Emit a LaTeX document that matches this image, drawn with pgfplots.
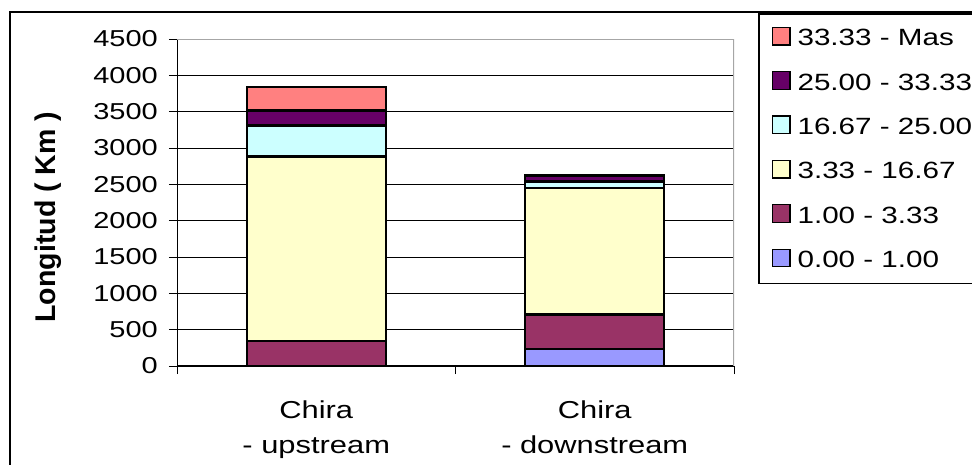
\documentclass[border=0pt]{standalone}
\usepackage{fontspec}
\setmainfont{Liberation Sans}[FakeStretch=1.26]
\newfontfamily\labfont{Liberation Sans}
\usepackage{pgfplots}
\pgfplotsset{compat=1.18}
\definecolor{cA}{HTML}{9999FF}
\definecolor{cB}{HTML}{993366}
\definecolor{cC}{HTML}{FFFFCC}
\definecolor{cD}{HTML}{CCFFFF}
\definecolor{cE}{HTML}{660066}
\definecolor{cF}{HTML}{FF8080}
\begin{document}
\begin{tikzpicture}[x=1pt,y=1pt]
\draw[line width=2pt] (10,-20) -- (10,451.5) -- (1000,451.5);
\begin{axis}[
  at={(177pt,98pt)}, anchor=south west, scale only axis,
  width=557pt, height=327pt,
  ybar stacked, bar width=139pt,
  xmin=-0.5, xmax=1.5, ymin=0, ymax=4500,
  axis x line*=bottom, axis y line*=left,
  x axis line style={black, line width=1.5pt, -},
  y axis line style={black, line width=1pt, -},
  ytick={0,500,...,4500},
  xtick={-0.5,0.5,1.5}, xticklabels={},
  tick align=outside, major tick length=8pt,
  tick style={black, line width=1pt},
  extra x ticks={0,1},
  extra x tick labels={Chira\\- upstream, Chira\\- downstream},
  extra x tick style={major tick length=0pt, grid=none,
    xticklabel style={align=center, font=\fontsize{24.5}{34.5}\selectfont, anchor=north, inner sep=0pt, yshift=-35pt}},
  ymajorgrids, grid style={black, line width=0.8pt},
  /pgf/number format/assume math mode=true,
  /pgf/number format/1000 sep={},
  yticklabel style={font=\fontsize{23}{27}\selectfont, anchor=east, inner sep=0pt, xshift=-11pt},
  ylabel={\labfont\bfseries Longitud ( Km )},
  ylabel style={at={(axis description cs:-0.2316,0.455)}, anchor=center, rotate=0, font=\fontsize{28.5}{30}\selectfont},
  legend style={at={(axis description cs:1.0431,1.0795)}, anchor=north west,
    draw=black, line width=1.5pt, inner xsep=13pt, inner ysep=13pt,
    row sep=22.2pt, column sep=7pt,
    font=\fontsize{23.5}{27}\selectfont,
    nodes={inner sep=0pt, text height=19pt, text depth=3pt}},
  legend cell align=left,
  reverse legend,
  legend image code/.code={\draw[#1, line width=1.3pt] (0pt,-7pt) rectangle (17.5pt,10.5pt);},
  every axis plot/.append style={draw=black, line width=2.2pt},
]
\addplot[fill=cA] coordinates {(0,0) (1,229)};
\addplot[fill=cB] coordinates {(0,348) (1,481)};
\addplot[fill=cC] coordinates {(0,2536) (1,1744)};
\addplot[fill=cD] coordinates {(0,426) (1,85)};
\addplot[fill=cE] coordinates {(0,206) (1,72)};
\addplot[fill=cF] coordinates {(0,329) (1,17)};
\legend{0.00 - 1.00, 1.00 - 3.33, 3.33 - 16.67, 16.67 - 25.00, 25.00 - 33.33, 33.33 - Mas}
\draw[gray!70, line width=2pt] (rel axis cs:0,1) -- (rel axis cs:1,1) -- (rel axis cs:1,0);
\end{axis}
\pgfresetboundingbox
\path[use as bounding box] (0,0) rectangle (972,464);
\end{tikzpicture}
\end{document}
